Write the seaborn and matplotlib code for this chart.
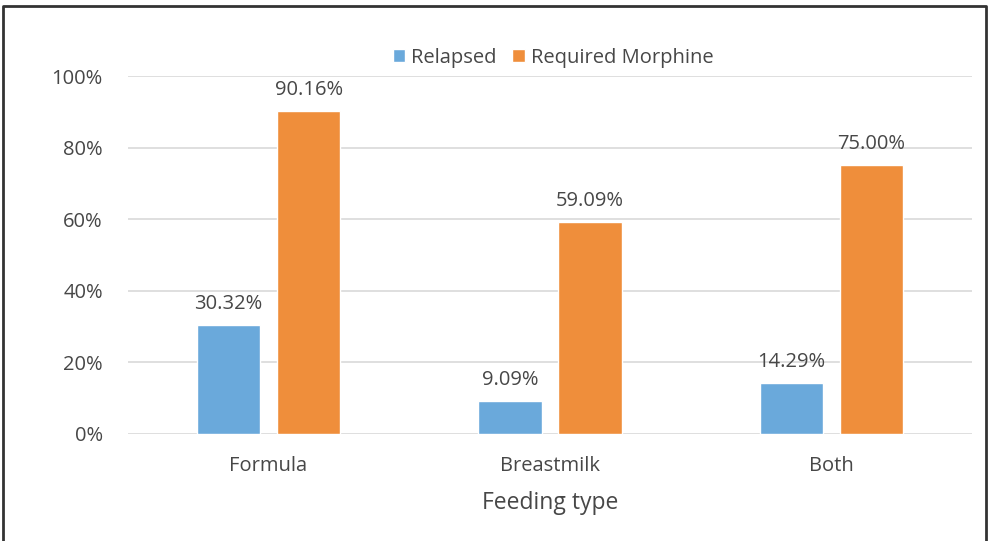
import pandas as pd
import matplotlib.pyplot as plt
import seaborn as sns
from matplotlib.lines import Line2D

# data
feeding = ["Formula", "Breastmilk", "Both"]
relapsed = [30.32, 9.09, 14.29]
morphine = [90.16, 59.09, 75.00]
series = ["Relapsed", "Required Morphine"]
colors = ["#6AA9DB", "#EF8E3B"]

df = pd.DataFrame({
    "Feeding type": feeding * 2,
    "value": relapsed + morphine,
    "group": [series[0]] * 3 + [series[1]] * 3,
})

sns.set_style("white")
plt.rcParams["font.family"] = ["Open Sans", "DejaVu Sans"]
text_col = "#474747"

fig = plt.figure(figsize=(9.91, 5.41), dpi=100)
ax = fig.add_axes([0.129, 0.198, 0.852, 0.6615])

sns.barplot(data=df, x="Feeding type", y="value", hue="group",
            palette=colors, width=0.57, gap=0.21, ax=ax, saturation=1)

for c in ax.containers:
    ax.bar_label(c, labels=[f"{v:.2f}%" for v in c.datavalues],
                 padding=8, fontsize=14.5, color=text_col)

ax.set_ylim(0, 100)
ax.set_yticks([0, 20, 40, 60, 80, 100])
ax.set_yticklabels([f"{t}%" for t in [0, 20, 40, 60, 80, 100]])
ax.yaxis.grid(True, color="#D9D9D9", linewidth=1.2)
ax.set_axisbelow(True)
for s in ax.spines.values():
    s.set_visible(False)
ax.tick_params(axis="both", length=0, labelsize=14.5, labelcolor=text_col)
ax.tick_params(axis="y", pad=18)
ax.tick_params(axis="x", pad=16)
ax.set_ylabel("")
ax.set_xlabel("Feeding type", fontsize=16.5, color=text_col, labelpad=11)

ax.legend(loc="center", bbox_to_anchor=(0.558, 0.893), bbox_transform=fig.transFigure,
          ncol=2, frameon=False, fontsize=14.5, handlelength=0.6, handleheight=0.6,
          handletextpad=0.3, columnspacing=0.8, labelcolor=text_col)

# outer frame (left, top, right)
fig.add_artist(Line2D([0.003, 0.003, 0.995, 0.995], [0.0, 0.989, 0.989, 0.0],
                      transform=fig.transFigure, color="#333333", linewidth=2))

plt.savefig("out.png", dpi=100)
